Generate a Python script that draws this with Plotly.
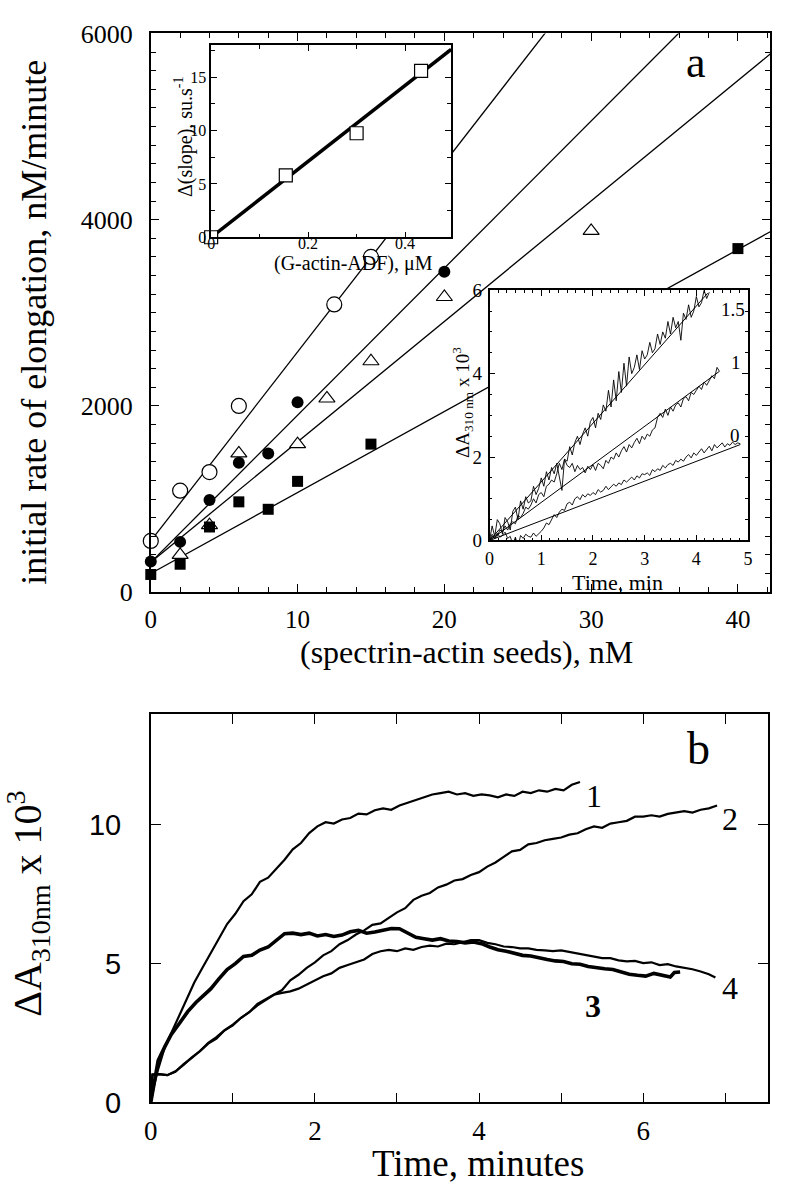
import plotly.graph_objects as go

W, H = 789, 1199
SERIF = "Liberation Serif"
SANS = "Liberation Sans"

# ---------------- panel a : main ----------------
open_x = [0, 2, 4, 6, 12.5, 15]
open_y = [550, 1090, 1290, 2000, 3090, 3600]
fcirc_x = [0, 2, 4, 6, 8, 10, 20]
fcirc_y = [330, 540, 990, 1390, 1490, 2040, 3440]
tri_x = [2, 4, 6, 10, 12, 15, 20, 30]
tri_y = [400, 720, 1490, 1590, 2080, 2480, 3170, 3880]
sq_x = [0, 2, 4, 6, 8, 10, 15, 40]
sq_y = [190, 300, 700, 970, 890, 1190, 1590, 3690]

fit_x = [0, 42.2]
fit_open_y = [550, 9117]
fit_fcirc_y = [320, 6988]
fit_tri_y = [320, 5780]
fit_sq_y = [200, 3871]

# ---------------- panel a : inset 1 ----------------
ins1_x = [0, 0.154, 0.3, 0.433]
ins1_y = [0, 5.8, 9.75, 15.6]
ins1_fit_x = [0, 0.495]
ins1_fit_y = [0, 17.6]
ins1_xrange = [0, 0.495]
ins1_yrange = [0, 18]

# ---------------- panel a : inset 2 ----------------
T = [float(v) for v in (
    "0.00 0.05 0.10 0.15 0.20 0.25 0.30 0.35 0.40 0.45 0.50 0.55 0.60 0.65 0.70 0.75 0.80 0.85 0.90 0.95 "
    "1.00 1.05 1.10 1.15 1.20 1.25 1.30 1.35 1.40 1.45 1.50 1.55 1.60 1.65 1.70 1.75 1.80 1.85 1.90 1.95 "
    "2.00 2.05 2.10 2.15 2.20 2.25 2.30 2.35 2.40 2.45 2.50 2.55 2.60 2.65 2.70 2.75 2.80 2.85 2.90 2.95 "
    "3.00 3.05 3.10 3.15 3.20 3.25 3.30 3.35 3.40 3.45 3.50 3.55 3.60 3.65 3.70 3.75 3.80 3.85 3.90 3.95 "
    "4.00 4.05 4.10 4.15 4.20 4.25 4.30 4.35 4.40 4.45 4.50 4.55 4.60 4.65 4.70 4.75 4.80 4.85 4.90 4.95").split()]

tr15_y = [0.00, 0.35, 0.10, 0.50, 0.40, 0.15, 0.55, 0.45, 0.25, 0.70,
          0.80, 0.50, 0.95, 0.75, 1.05, 0.90, 0.95, 1.30, 1.10, 1.25,
          1.50, 1.30, 1.65, 1.45, 1.75, 1.60, 1.85, 1.50, 1.20, 1.95,
          1.90, 2.25, 2.05, 2.35, 2.50, 2.30, 2.55, 2.70, 2.50, 2.85,
          2.95, 2.70, 3.05, 2.90, 3.25, 3.10, 3.60, 3.20, 3.85, 3.35,
          4.05, 3.55, 4.25, 3.70, 4.40, 4.00, 4.15, 4.45, 4.10, 4.55,
          4.35, 4.45, 4.75, 4.50, 4.60, 4.95, 4.70, 5.00, 4.85, 5.25,
          4.95, 5.35, 5.10, 5.25, 4.80, 5.45, 5.30, 5.65, 5.35, 5.50,
          5.85, 5.60, 5.70, 6.00, 5.80, 5.95]
tr1_y = [0.00, 0.15, 0.05, 0.10, 0.25, 0.20, 0.35, 0.25, 0.40, 0.45,
         0.40, 0.60, 0.55, 0.65, 0.80, 0.75, 0.85, 1.00, 0.90, 1.10,
         1.15, 1.05, 1.30, 1.35, 1.45, 1.40, 1.60, 1.85, 1.70, 1.95,
         1.80, 1.75, 1.85, 1.65, 1.80, 1.70, 1.75, 1.62, 1.78, 1.70,
         1.82, 1.68, 1.85, 1.80, 1.72, 1.92, 1.85, 2.00, 1.95, 2.10,
         2.00, 2.15, 2.25, 2.12, 2.30, 2.22, 2.35, 2.45, 2.32, 2.50,
         2.42, 2.55, 2.50, 2.65, 2.70, 2.95, 3.05, 2.95, 3.15, 3.00,
         3.20, 3.10, 3.25, 3.30, 3.20, 3.40, 3.45, 3.35, 3.55, 3.50,
         3.60, 3.70, 3.62, 3.80, 3.72, 3.85, 3.95, 3.88, 4.15, 4.05]
tr0_y = [0.00, 0.10, 0.05, 0.18, 0.08, 0.12, 0.20, 0.05, 0.10, -0.10,
         0.08, -0.15, 0.12, 0.05, 0.15, 0.10, 0.08, 0.18, 0.10, 0.15,
         0.22, 0.30, 0.42, 0.38, 0.50, 0.62, 0.55, 0.68, 0.75, 0.72,
         0.88, 0.92, 0.85, 1.00, 1.05, 0.98, 1.10, 1.04, 1.12, 1.08,
         1.15, 1.10, 1.22, 1.16, 1.20, 1.30, 1.22, 1.28, 1.35, 1.30,
         1.38, 1.34, 1.45, 1.40, 1.46, 1.52, 1.45, 1.55, 1.50, 1.60,
         1.58, 1.62, 1.56, 1.70, 1.65, 1.72, 1.68, 1.80, 1.74, 1.82,
         1.85, 1.80, 1.92, 1.88, 1.95, 1.90, 2.00, 2.06, 1.98, 2.10,
         2.04, 2.12, 2.20, 2.10, 2.18, 2.26, 2.15, 2.30, 2.22, 2.28,
         2.34, 2.24, 2.32, 2.28, 2.36, 2.30, 2.34, 2.32]
fit15_x, fit15_y = [0, 4.22], [0, 5.93]
fit1_x, fit1_y = [0, 4.44], [0, 4.05]
fit0_x, fit0_y = [0, 4.85], [0, 2.30]
ins2_xrange = [0, 5]
ins2_yrange = [0, 6]

# ---------------- panel b ----------------
c1_x = [0, 0.04, 0.09, 0.17, 0.25, 0.33, 0.43, 0.53, 0.63, 0.73, 0.83, 0.93, 1.03, 1.13,
        1.23, 1.33, 1.43, 1.53, 1.63, 1.73, 1.83, 1.93, 2.03, 2.13, 2.23, 2.33, 2.43, 2.53,
        2.63, 2.73, 2.83, 2.93, 3.03, 3.13, 3.23, 3.33, 3.43, 3.53, 3.63, 3.73, 3.83, 3.93,
        4.03, 4.13, 4.23, 4.33, 4.43, 4.53, 4.63, 4.73, 4.83, 4.93, 5.03, 5.13, 5.23]
c1_y = [0, 0.6, 1.2, 1.98, 2.5, 3.03, 3.7, 4.32, 4.85, 5.37, 5.9, 6.43, 6.8, 7.25,
        7.5, 7.95, 8.1, 8.42, 8.75, 9.12, 9.35, 9.71, 9.95, 10.1, 10.05, 10.2, 10.25, 10.41,
        10.38, 10.53, 10.6, 10.55, 10.7, 10.8, 10.9, 11.0, 11.1, 11.15, 11.2, 11.1, 11.15, 11.05,
        11.1, 11.07, 11.0, 11.1, 11.05, 11.2, 11.15, 11.25, 11.2, 11.3, 11.25, 11.45, 11.55]

c2_x = [0, 0.02, 0.1, 0.2, 0.3, 0.4, 0.5, 0.6, 0.7, 0.8, 0.9, 1.0, 1.1, 1.2, 1.3, 1.4,
        1.5, 1.6, 1.7, 1.8, 1.9, 2.0, 2.1, 2.2, 2.3, 2.4, 2.5, 2.6, 2.7, 2.8, 2.9, 3.0,
        3.1, 3.2, 3.3, 3.4, 3.5, 3.6, 3.7, 3.8, 3.9, 4.0, 4.1, 4.2, 4.3, 4.4, 4.5, 4.6,
        4.7, 4.8, 4.9, 5.0, 5.1, 5.2, 5.3, 5.4, 5.5, 5.6, 5.7, 5.8, 5.9, 6.0, 6.1, 6.2,
        6.3, 6.4, 6.5, 6.6, 6.7, 6.8, 6.9]
c2_y = [0.2, 1.0, 1.02, 0.98, 1.12, 1.35, 1.62, 1.85, 2.12, 2.3, 2.6, 2.78, 3.05, 3.25, 3.55, 3.72,
        3.9, 4.05, 4.4, 4.6, 4.85, 5.05, 5.3, 5.45, 5.7, 5.85, 6.05, 6.2, 6.4, 6.45, 6.65, 6.85,
        7.0, 7.3, 7.45, 7.55, 7.75, 7.85, 8.0, 8.05, 8.2, 8.3, 8.5, 8.65, 8.85, 9.05, 9.1, 9.3,
        9.35, 9.45, 9.5, 9.55, 9.65, 9.7, 9.85, 9.95, 9.9, 10.05, 10.1, 10.15, 10.3, 10.3, 10.35, 10.3,
        10.4, 10.45, 10.5, 10.45, 10.55, 10.6, 10.7]

c3_x = [0, 0.04, 0.09, 0.17, 0.25, 0.35, 0.45, 0.55, 0.65, 0.73, 0.83, 0.93, 1.03, 1.13,
        1.23, 1.33, 1.43, 1.53, 1.63, 1.73, 1.83, 1.93, 2.03, 2.13, 2.23, 2.33, 2.43, 2.53,
        2.63, 2.73, 2.83, 2.93, 3.03, 3.13, 3.23, 3.33, 3.43, 3.53, 3.63, 3.73, 3.83, 3.93,
        4.03, 4.13, 4.23, 4.33, 4.43, 4.53, 4.63, 4.73, 4.83, 4.93, 5.03, 5.13, 5.23, 5.33,
        5.43, 5.53, 5.63, 5.73, 5.83, 5.93, 6.03, 6.13, 6.23, 6.33, 6.38, 6.45]
c3_y = [0, 0.7, 1.51, 2.0, 2.45, 2.85, 3.27, 3.6, 3.85, 4.09, 4.45, 4.79, 5.0, 5.26,
        5.3, 5.49, 5.6, 5.85, 6.08, 6.1, 6.05, 6.1, 6.0, 6.05, 5.98, 6.03, 6.15, 6.2,
        6.1, 6.14, 6.2, 6.27, 6.26, 6.1, 5.95, 5.9, 5.85, 5.9, 5.82, 5.8, 5.75, 5.78,
        5.72, 5.6, 5.5, 5.45, 5.38, 5.3, 5.28, 5.2, 5.15, 5.1, 5.08, 5.0, 4.98, 4.9,
        4.85, 4.82, 4.79, 4.7, 4.62, 4.58, 4.55, 4.65, 4.58, 4.52, 4.68, 4.7]

c4_x = [0, 0.02, 0.1, 0.2, 0.3, 0.4, 0.5, 0.6, 0.7, 0.8, 0.9, 1.0, 1.1, 1.2, 1.3, 1.4,
        1.5, 1.6, 1.7, 1.8, 1.9, 2.0, 2.1, 2.2, 2.3, 2.4, 2.5, 2.6, 2.7, 2.8, 2.9, 3.0,
        3.1, 3.2, 3.3, 3.4, 3.5, 3.6, 3.7, 3.8, 3.9, 4.0, 4.1, 4.2, 4.3, 4.4, 4.5, 4.6,
        4.7, 4.8, 4.9, 5.0, 5.1, 5.2, 5.3, 5.4, 5.5, 5.6, 5.7, 5.8, 5.9, 6.0, 6.1, 6.2,
        6.3, 6.4, 6.5, 6.6, 6.7, 6.8, 6.88]
c4_y = [0.2, 1.0, 1.02, 0.98, 1.1, 1.38, 1.6, 1.85, 2.15, 2.35, 2.6, 2.8, 3.05, 3.25, 3.5, 3.7,
        3.88, 3.95, 4.0, 4.1, 4.25, 4.4, 4.55, 4.65, 4.85, 4.95, 5.05, 5.15, 5.35, 5.45, 5.5, 5.45,
        5.55, 5.5, 5.6, 5.65, 5.62, 5.72, 5.7, 5.78, 5.85, 5.85, 5.75, 5.7, 5.62, 5.6, 5.55, 5.55,
        5.5, 5.48, 5.45, 5.48, 5.42, 5.38, 5.3, 5.25, 5.2, 5.2, 5.12, 5.08, 5.1, 5.02, 5.05, 4.95,
        4.98, 4.9, 4.85, 4.8, 4.72, 4.62, 4.5]


def px(x):
    return x / W


def py(y):
    return 1 - y / H


fig = go.Figure()

# main panel a traces (xy)
for fy in (fit_open_y, fit_fcirc_y, fit_tri_y, fit_sq_y):
    fig.add_trace(go.Scatter(x=fit_x, y=fy, mode="lines",
                             line=dict(color="black", width=1.3), xaxis="x", yaxis="y"))
fig.add_trace(go.Scatter(x=open_x, y=open_y, mode="markers", cliponaxis=False,
                         marker=dict(symbol="circle", size=15, color="white",
                                     line=dict(color="black", width=1.2)), xaxis="x", yaxis="y"))
fig.add_trace(go.Scatter(x=tri_x, y=tri_y, mode="markers", cliponaxis=False,
                         marker=dict(symbol="triangle-up", size=14, color="white",
                                     line=dict(color="black", width=1.2)), xaxis="x", yaxis="y"))
fig.add_trace(go.Scatter(x=sq_x, y=sq_y, mode="markers", cliponaxis=False,
                         marker=dict(symbol="square", size=11, color="black"), xaxis="x", yaxis="y"))
fig.add_trace(go.Scatter(x=fcirc_x, y=fcirc_y, mode="markers", cliponaxis=False,
                         marker=dict(symbol="circle", size=12, color="black"), xaxis="x", yaxis="y"))


def white_box(xr, yr, xa, ya):
    return go.Scatter(x=[xr[0], xr[1], xr[1], xr[0], xr[0]], y=[yr[0], yr[0], yr[1], yr[1], yr[0]],
                      mode="lines", fill="toself", fillcolor="white", line=dict(width=0, color="white"),
                      hoverinfo="skip", xaxis=xa, yaxis=ya)


# inset 1 (x2y2)
fig.add_trace(white_box(ins1_xrange, ins1_yrange, "x2", "y2"))
fig.add_trace(go.Scatter(x=ins1_fit_x, y=ins1_fit_y, mode="lines",
                         line=dict(color="black", width=3.5), xaxis="x2", yaxis="y2"))
fig.add_trace(go.Scatter(x=ins1_x, y=ins1_y, mode="markers", cliponaxis=False,
                         marker=dict(symbol="square", size=13, color="white",
                                     line=dict(color="black", width=1.2)), xaxis="x2", yaxis="y2"))

# inset 2 (x3y3)
fig.add_trace(white_box(ins2_xrange, ins2_yrange, "x3", "y3"))
for yy in (tr15_y, tr1_y, tr0_y):
    fig.add_trace(go.Scatter(x=T[:len(yy)], y=yy, mode="lines",
                             line=dict(color="black", width=0.9), xaxis="x3", yaxis="y3"))
for fx, fy in ((fit15_x, fit15_y), (fit1_x, fit1_y), (fit0_x, fit0_y)):
    fig.add_trace(go.Scatter(x=fx, y=fy, mode="lines",
                             line=dict(color="black", width=1.0), xaxis="x3", yaxis="y3"))

# panel b (x4y4)
for cx, cy, w in ((c1_x, c1_y, 2.2), (c2_x, c2_y, 2.2), (c4_x, c4_y, 2.2), (c3_x, c3_y, 3.6)):
    fig.add_trace(go.Scatter(x=cx, y=cy, mode="lines", line=dict(color="black", width=w),
                             xaxis="x4", yaxis="y4"))


def ax(domain, rng, anchor, **kw):
    d = dict(domain=domain, range=rng, anchor=anchor, showline=True, linecolor="black",
             linewidth=1.5, mirror="allticks", ticks="inside", tickcolor="black",
             showgrid=False, zeroline=False, fixedrange=True)
    d.update(kw)
    return d


fig.update_layout(
    width=W, height=H, autosize=False,
    margin=dict(l=0, r=0, t=0, b=0),
    paper_bgcolor="white", plot_bgcolor="white",
    showlegend=False,
    font=dict(family=SERIF, color="black"),
    xaxis=ax([px(146), px(775)], [0, 42.2], "y", dtick=10, ticklen=8, tickwidth=1.3,
             minor=dict(dtick=2, ticklen=5, tickcolor="black", ticks="inside", tickwidth=1.1),
             tickfont=dict(size=25, family=SERIF), ticklabelstandoff=4),
    yaxis=ax([py(593), py(20)], [0, 6000], "x", dtick=2000, ticklen=8, tickwidth=1.3,
             minor=dict(dtick=200, ticklen=5, tickcolor="black", ticks="inside", tickwidth=1.1),
             tickfont=dict(size=26, family=SERIF), ticklabelstandoff=11),
    xaxis2=ax([px(207.3), px(451)], ins1_xrange, "y2", dtick=0.2, ticklen=6, tickwidth=1.2,
              minor=dict(dtick=0.1, ticklen=4, tickcolor="black", ticks="inside"),
              tickfont=dict(size=16, family=SERIF), ticklabelstandoff=-9),
    yaxis2=ax([py(229), py(32)], ins1_yrange, "x2", dtick=5, ticklen=6, tickwidth=1.2,
              minor=dict(dtick=2.5, ticklen=4, tickcolor="black", ticks="inside"),
              tickfont=dict(size=16, family=SERIF), ticklabelstandoff=0),
    xaxis3=ax([px(490), px(752.5)], ins2_xrange, "y3", dtick=1, ticklen=6, tickwidth=1.2,
              minor=dict(dtick=1 / 6, ticklen=3, tickcolor="black", ticks="inside"),
              tickfont=dict(size=18, family=SERIF), ticklabelstandoff=1),
    yaxis3=ax([py(540), py(283.3)], ins2_yrange, "x3", dtick=2, ticklen=6, tickwidth=1.2,
              minor=dict(dtick=0.5, ticklen=3, tickcolor="black", ticks="inside"),
              tickfont=dict(size=19, family=SERIF), ticklabelstandoff=2),
    xaxis4=ax([px(146), px(772.7)], [0, 7.52], "y4", dtick=2, ticklen=10, tickwidth=1.3,
              minor=dict(dtick=1, ticklen=10, tickcolor="black", ticks="inside", tickwidth=1.3),
              tickfont=dict(size=27, family=SERIF), ticklabelstandoff=3),
    yaxis4=ax([py(1116.3), py(718)], [0, 14], "x4", dtick=5, ticklen=10, tickwidth=1.3,
              tickfont=dict(size=29, family=SANS), ticklabelstandoff=22),
)

ann = []


def add_text(x, y, text, size, angle=0, family=SERIF):
    ann.append(dict(x=px(x), y=py(y), xref="paper", yref="paper", text=text, showarrow=False,
                    textangle=angle, xanchor="center", yanchor="middle",
                    font=dict(size=size, family=family, color="black")))


add_text(28, 316, "initial rate of elongation, nM/minute", 36, -90)
add_text(467, 654, "(spectrin-actin seeds), nM", 32)
add_text(700, 50, "a", 44)
add_text(180, 126, "Δ(slope), su.s<sup>-1</sup>", 20, -90)
add_text(352, 256, "(G-actin-ADF), μM", 20)
add_text(462, 398, "ΔA<sub>310 nm</sub> x 10<sup>3</sup>", 19, -90)
add_text(620, 583, "Time, min", 22)
add_text(737, 303, "1.5", 19)
add_text(740, 357, "1", 19)
add_text(739, 432, "0", 19)
add_text(21, 913, "ΔA<sub>310nm</sub> x 10<sup>3</sup>", 40, -90)
add_text(478, 1179, "Time, minutes", 37)
add_text(702, 753, "b", 46)
add_text(596, 802, "1", 32)
add_text(734, 826, "2", 32)
add_text(595, 1017, "<b>3</b>", 32)
add_text(734, 999, "4", 32)
fig.update_layout(annotations=ann)

fig.write_html("out.html", config={"displayModeBar": False},
               post_script="document.body.style.margin='0';document.body.style.padding='0';")
